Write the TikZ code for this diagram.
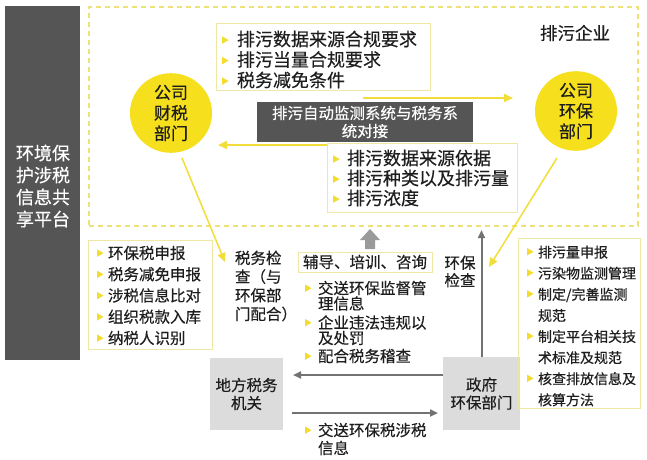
\documentclass[tikz,border=0pt]{standalone}
\usepackage{fontspec}
\setmainfont{Noto Sans CJK SC}[FakeBold=0.35]
\usetikzlibrary{shapes.geometric,arrows.meta}
\definecolor{yel}{HTML}{F6DF1C}
\definecolor{yline}{HTML}{F2DD3A}
\definecolor{dashc}{HTML}{EDE27A}
\definecolor{boxc}{HTML}{EEE8A4}
\definecolor{bulc}{HTML}{F3DC2C}
\definecolor{darkc}{HTML}{555555}
\definecolor{lgray}{HTML}{DCDCDC}
\definecolor{garr}{HTML}{727272}
\definecolor{blockc}{HTML}{9A9A9A}
\definecolor{txt}{HTML}{1E1E1E}
\newcommand\fs[2]{\fontsize{#1}{#2}\selectfont}
\newcommand\bl[1][13pt]{\makebox[#1][l]{\raisebox{2pt}{\tikz\fill[bulc](0,0)--(0,7.5pt)--(6.5pt,3.75pt)--cycle;}}}
\tikzset{
  ybox/.style={draw=boxc, line width=1pt, anchor=north west},
  yarr/.style={draw=yline, line width=2pt, -{Triangle[length=9pt,width=8pt]}},
  ydiag/.style={draw=yline, line width=1.5pt, -{Triangle[length=9pt,width=8pt]}},
  garrow/.style={draw=garr, line width=2pt, -{Triangle[length=8pt,width=7pt]}},
  gbox/.style={fill=lgray, align=center, font=\fs{15.5}{18}, text=txt},
  circ/.style={ellipse, fill=yel, minimum width=82pt, align=center, font=\fs{17}{20.5}, text=txt},
  blist/.style={anchor=west, align=left, text=txt}
}
\begin{document}
\begin{tikzpicture}[x=1pt,y=-1pt, every node/.style={inner sep=0pt, outer sep=0pt}]
\useasboundingbox (0,0) rectangle (647,459);
\fill[white] (0,0) rectangle (647,459);

% left platform bar
\node[fill=darkc, minimum width=75pt, minimum height=354pt, anchor=north west] (bar) at (5,6) {};
\node[text=white, align=center, font=\fs{18}{22}] (bartxt) at (43,186) {环境保\\护涉税\\信息共\\享平台};

% enterprise dashed frame
\node[draw=dashc, line width=1.5pt, dash pattern=on 5pt off 4pt, minimum width=549pt, minimum height=219pt, anchor=north west] (ent) at (89,7) {};
\node[font=\fs{17.5}{20}, text=txt] (enttxt) at (575,33) {排污企业};

% top bullet box
\node[ybox, minimum width=214pt, minimum height=67pt] (tb) at (216,23) {};
\node[blist, font=\fs{18}{20.5}] (tbt) at (222,59.5) {\bl[15pt]排污数据来源合规要求\\\bl[15pt]排污当量合规要求\\\bl[15pt]税务减免条件};

% circles
\node[circ, minimum height=70pt] (lc) at (171,113) {公司\\财税\\部门};
\node[circ, minimum height=72pt] (rc) at (576,111) {公司\\环保\\部门};

% system box
\node[fill=darkc, minimum width=216pt, minimum height=40pt, text=white, align=center, font=\fs{15.5}{18}] (sys) at (365,122) {排污自动监测系统与税务系\\统对接};

% box 2
\node[ybox, minimum width=190pt, minimum height=69pt] (b2) at (327,143) {};
\node[blist, font=\fs{18}{20}] (b2t) at (333,178) {\bl[14pt]排污数据来源依据\\\bl[14pt]排污种类以及排污量\\\bl[14pt]排污浓度};

% yellow arrows
\coordinate (ar1) at (363,98);
\coordinate (ar2) at (513,98);
\draw[yarr] (ar1) -- (ar2);
\coordinate (al1) at (327,145);
\coordinate (al2) at (218,145);
\draw[yarr] (al1) -- (al2);
\coordinate (d1s) at (182,158);
\coordinate (d1e) at (225,262);
\draw[ydiag] (d1s) -- (d1e);
\coordinate (d2s) at (557,158);
\coordinate (d2e) at (489,267);
\draw[ydiag] (d2s) -- (d2e);

% left bottom bullet box
\node[ybox, minimum width=124pt, minimum height=109pt] (lb) at (88,240) {};
\node[blist, font=\fs{15.5}{21.25}] (lbt) at (97,295.5) {\bl[11pt]环保税申报\\\bl[11pt]税务减免申报\\\bl[11pt]涉税信息比对\\\bl[11pt]组织税款入库\\\bl[11pt]纳税人识别};

% tax check text
\node[blist, font=\fs{15.5}{18.7}] (chk) at (235,286) {税务检\\查（与\\环保部\\门配合）};

% guidance box and block arrow
\node[draw=boxc, line width=1pt, minimum width=134pt, minimum height=20pt, font=\fs{15.5}{18}, text=txt] (fd) at (365,262) {辅导、培训、咨询};
\fill[blockc] (365,249) -- (375,249) -- (375,240) -- (380,240) -- (370,229) -- (360,240) -- (365,240) -- cycle;

% middle bullets
\node[blist, font=\fs{15.5}{15.5}] (mid) at (305,322) {\bl 交送环保监督管\\\hspace*{13pt}理信息\\[3.5pt]\bl 企业违法违规以\\\hspace*{13pt}及处罚\\[2.5pt]\bl 配合税务稽查};

% gray boxes
\node[gbox, minimum width=73pt, minimum height=72pt] (tax) at (246.5,394) {地方税务\\机关};
\node[gbox, minimum width=77pt, minimum height=73pt] (gov) at (481.5,393.5) {政府\\环保部门};

% environmental check arrow
\coordinate (hbtop) at (481.5,230);
\draw[garrow] (gov.north) -- (hbtop);
\node[align=center, font=\fs{15.5}{17.5}, text=txt] (hbt) at (460,271.5) {环保\\检查};

% gray horizontal arrows
\draw[garrow] ([yshift=18.5pt]gov.west) -- ([xshift=10pt,yshift=19pt]tax.east);
\draw[garrow] ([xshift=9pt,yshift=-19pt]tax.east) -- ([xshift=-5pt,yshift=-19.5pt]gov.west);

% bottom bullets
\node[blist, font=\fs{15.5}{18}] (bot) at (305,439) {\bl 交送环保税涉税\\\hspace*{13pt}信息};

% right bullet box
\node[ybox, minimum width=122pt, minimum height=170pt] (rb) at (518,238) {};
\node[blist, font=\fs{14}{21.1}] (rbt) at (527,326) {\bl[11pt]排污量申报\\\bl[11pt]污染物监测管理\\\bl[11pt]制定/完善监测\\\hspace*{11pt}规范\\\bl[11pt]制定平台相关技\\\hspace*{11pt}术标准及规范\\\bl[11pt]核查排放信息及\\\hspace*{11pt}核算方法};
\end{tikzpicture}
\end{document}
